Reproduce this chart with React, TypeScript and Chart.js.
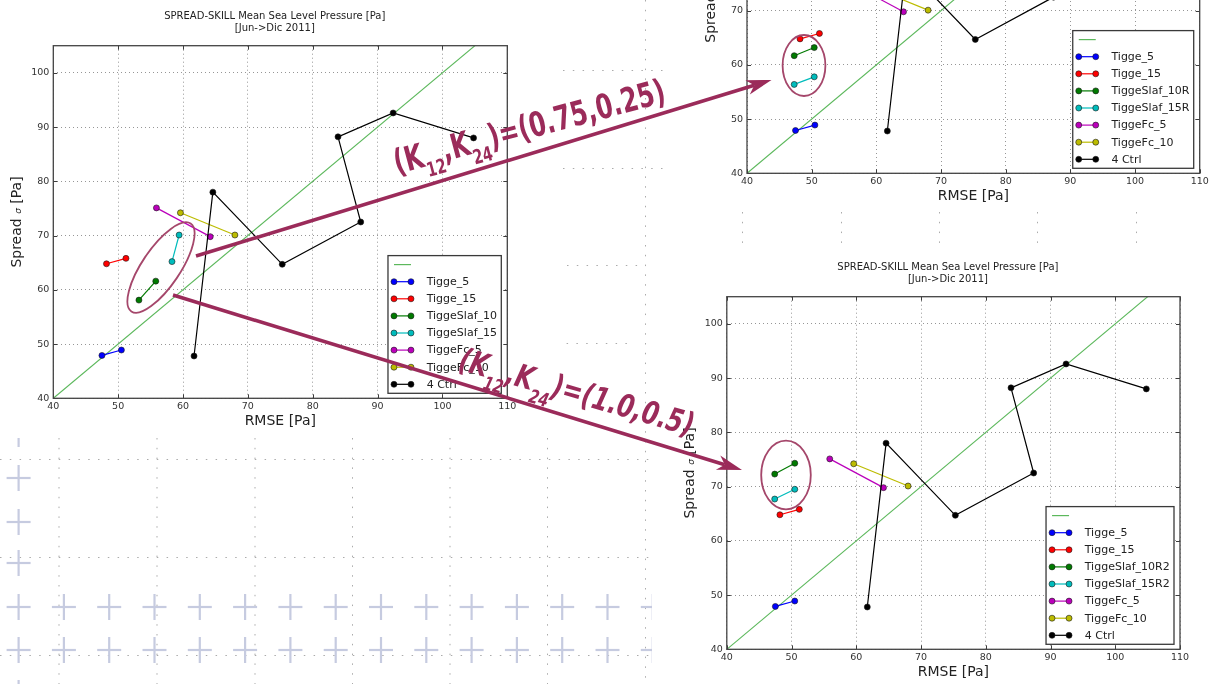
import React, { useEffect, useRef } from "react";
import { Chart, registerables } from "chart.js";

Chart.register(...registerables);

// ---- axis ranges (Pa) ----
const RMSE_MIN = 40;
const RMSE_MAX = 110;
const SPREAD_MIN = 40;
const SPREAD_MAX = 105;
const TICK_STEP = 10;

// ---- perfect spread/skill reference (spread = RMSE) ----
const diagonalRmse = [40, 110];
const diagonalSpread = [40, 110];

// ---- experiments: RMSE vs spread, one point per lead time ----
const tigge5Rmse = [47.5, 50.5];
const tigge5Spread = [47.9, 48.9];
const tigge15Rmse = [48.2, 51.2];
const tigge15Spread = [64.8, 65.8];

const slaf10Rmse = [53.2, 55.8];
const slaf10Spread = [58.1, 61.6];
const slaf15Rmse = [58.3, 59.4];
const slaf15Spread = [65.2, 70.1];

const slaf10RRmse = [47.3, 50.4];
const slaf10RSpread = [61.7, 63.2];
const slaf15RRmse = [47.3, 50.4];
const slaf15RSpread = [56.4, 57.8];

const slaf10R2Rmse = [47.4, 50.5];
const slaf10R2Spread = [72.3, 74.3];
const slaf15R2Rmse = [47.4, 50.5];
const slaf15R2Spread = [67.7, 69.5];

const fc5Rmse = [55.9, 64.2];
const fc5Spread = [75.1, 69.8];
const fc10Rmse = [59.6, 68.0];
const fc10Spread = [74.2, 70.1];

const ctrlRmse = [61.7, 64.6, 75.3, 87.4, 83.9, 92.4, 104.8];
const ctrlSpread = [47.8, 78.0, 64.7, 72.5, 88.2, 92.6, 88.0];

// ---- texts ----
const TITLE_LINES = ["SPREAD-SKILL Mean Sea Level Pressure [Pa]", "[Jun->Dic 2011]"];
const X_TITLE = "RMSE [Pa]";
const Y_TITLE_PARTS = ["Spread ", "\u03c3", " [Pa]"];

// ---- colours ----
const C_DIAG = "#5cb85c";
const C_BLUE = "#0000ff";
const C_RED = "#ff0000";
const C_GREEN = "#007a00";
const C_CYAN = "#00bcbc";
const C_MAGENTA = "#bb00bb";
const C_OLIVE = "#bcbc00";
const C_BLACK = "#000000";
const C_NOTE = "#9b2b5a";
const C_RING = "#a5476b";

const FONT = "'DejaVu Sans', 'Liberation Sans', sans-serif";

type Series = { label: string; color: string; rmse: number[]; spread: number[] };

function buildSeries(slaf: Series[]): Series[] {
  return [
    { label: "Tigge_5", color: C_BLUE, rmse: tigge5Rmse, spread: tigge5Spread },
    { label: "Tigge_15", color: C_RED, rmse: tigge15Rmse, spread: tigge15Spread },
    ...slaf,
    { label: "TiggeFc_5", color: C_MAGENTA, rmse: fc5Rmse, spread: fc5Spread },
    { label: "TiggeFc_10", color: C_OLIVE, rmse: fc10Rmse, spread: fc10Spread },
    { label: "4 Ctrl", color: C_BLACK, rmse: ctrlRmse, spread: ctrlSpread },
  ];
}

type Panel = {
  key: string;
  left: number;
  top: number;
  width: number;
  height: number;
  area: { l: number; t: number; r: number; b: number };
  series: Series[];
};

const panels: Panel[] = [
  {
    key: "base",
    left: 0,
    top: 0,
    width: 560,
    height: 438,
    area: { l: 53.3, t: 45.7, r: 507.3, b: 398.3 },
    series: buildSeries([
      { label: "TiggeSlaf_10", color: C_GREEN, rmse: slaf10Rmse, spread: slaf10Spread },
      { label: "TiggeSlaf_15", color: C_CYAN, rmse: slaf15Rmse, spread: slaf15Spread },
    ]),
  },
  {
    key: "k075",
    left: 680,
    top: -230,
    width: 536,
    height: 440,
    area: { l: 67, t: 51, r: 519.7, b: 403.3 },
    series: buildSeries([
      { label: "TiggeSlaf_10R", color: C_GREEN, rmse: slaf10RRmse, spread: slaf10RSpread },
      { label: "TiggeSlaf_15R", color: C_CYAN, rmse: slaf15RRmse, spread: slaf15RSpread },
    ]),
  },
  {
    key: "k10",
    left: 680,
    top: 255,
    width: 536,
    height: 429,
    area: { l: 46.8, t: 41.7, r: 500, b: 394.3 },
    series: buildSeries([
      { label: "TiggeSlaf_10R2", color: C_GREEN, rmse: slaf10R2Rmse, spread: slaf10R2Spread },
      { label: "TiggeSlaf_15R2", color: C_CYAN, rmse: slaf15R2Rmse, spread: slaf15R2Spread },
    ]),
  },
];

const toPoints = (xs: number[], ys: number[]) => xs.map((x, i) => ({ x, y: ys[i] }));

function SpreadSkillChart({ panel }: { panel: Panel }) {
  const ref = useRef<HTMLCanvasElement | null>(null);

  useEffect(() => {
    const canvas = ref.current;
    if (!canvas) return;
    const { area, width, height, series } = panel;

    const datasets: any[] = [
      {
        label: "",
        data: toPoints(diagonalRmse, diagonalSpread),
        showLine: true,
        borderColor: C_DIAG,
        borderWidth: 1.1,
        pointRadius: 0,
        order: 100,
      },
      ...series.map((s, i) => ({
        label: s.label,
        data: toPoints(s.rmse, s.spread),
        showLine: true,
        borderColor: s.color,
        borderWidth: 1.2,
        backgroundColor: s.color,
        pointBackgroundColor: s.color,
        pointBorderColor: "#1a1a1a",
        pointBorderWidth: 0.6,
        pointRadius: 3,
        order: 50 - i,
      })),
    ];

    const decor = {
      id: "decor",
      afterDraw(chart: any) {
        const { ctx, chartArea: a } = chart;
        const xs = chart.scales.x;
        const ys = chart.scales.y;
        ctx.save();

        // inward tick marks on all four spines
        ctx.strokeStyle = "#3c3c3c";
        ctx.lineWidth = 1;
        ctx.beginPath();
        for (const t of xs.ticks) {
          const px = Math.round(xs.getPixelForValue(t.value)) + 0.5;
          ctx.moveTo(px, a.bottom);
          ctx.lineTo(px, a.bottom - 4);
          ctx.moveTo(px, a.top);
          ctx.lineTo(px, a.top + 4);
        }
        for (const t of ys.ticks) {
          const py = Math.round(ys.getPixelForValue(t.value)) + 0.5;
          ctx.moveTo(a.left, py);
          ctx.lineTo(a.left + 4, py);
          ctx.moveTo(a.right, py);
          ctx.lineTo(a.right - 4, py);
        }
        ctx.stroke();

        // axes frame
        ctx.strokeStyle = "#444";
        ctx.lineWidth = 1.3;
        ctx.strokeRect(a.left, a.top, a.right - a.left, a.bottom - a.top);

        // legend box, lower right inside the axes
        ctx.font = `11px ${FONT}`;
        const entries = [{ label: "", color: C_DIAG, marker: false }].concat(
          series.map((s) => ({ label: s.label, color: s.color, marker: true }))
        );
        const maxW = Math.max(...entries.map((e) => ctx.measureText(e.label).width));
        const rowH = 17.1;
        const boxW = 39 + maxW + 4;
        const boxH = 18 + (entries.length - 1) * rowH;
        const bx = a.right - 6 - boxW;
        const by = a.bottom - 5 - boxH;
        ctx.fillStyle = "#fff";
        ctx.fillRect(bx, by, boxW, boxH);
        ctx.strokeStyle = "#3a3a3a";
        ctx.lineWidth = 1.3;
        ctx.strokeRect(bx, by, boxW, boxH);
        entries.forEach((e, i) => {
          const ry = by + 9 + i * rowH;
          ctx.strokeStyle = e.color;
          ctx.lineWidth = 1.2;
          ctx.beginPath();
          ctx.moveTo(bx + 6, ry);
          ctx.lineTo(bx + 23, ry);
          ctx.stroke();
          if (e.marker) {
            for (const mx of [bx + 6, bx + 23]) {
              ctx.beginPath();
              ctx.arc(mx, ry, 3, 0, Math.PI * 2);
              ctx.fillStyle = e.color;
              ctx.fill();
              ctx.lineWidth = 0.6;
              ctx.strokeStyle = "#1a1a1a";
              ctx.stroke();
            }
          }
          ctx.fillStyle = "#222";
          ctx.textAlign = "left";
          ctx.textBaseline = "middle";
          ctx.fillText(e.label, bx + 38.7, ry + 0.5);
        });

        // title
        const cx = (a.left + a.right) / 2;
        ctx.fillStyle = "#222";
        ctx.textAlign = "center";
        ctx.textBaseline = "middle";
        ctx.font = `10px ${FONT}`;
        ctx.fillText(TITLE_LINES[0], cx - 5.5, a.top - 29.7);
        ctx.fillText(TITLE_LINES[1], cx - 5.5, a.top - 17.4);

        // x axis title
        ctx.font = `14px ${FONT}`;
        ctx.fillText(X_TITLE, cx, a.bottom + 23);

        // y axis title with a small sigma
        const big = `14px ${FONT}`;
        const small = `italic 9px ${FONT}`;
        ctx.font = big;
        const w1 = ctx.measureText(Y_TITLE_PARTS[0]).width;
        const w3 = ctx.measureText(Y_TITLE_PARTS[2]).width;
        ctx.font = small;
        const w2 = ctx.measureText(Y_TITLE_PARTS[1]).width;
        const total = w1 + w2 + w3;
        ctx.translate(a.left - 36, (a.top + a.bottom) / 2);
        ctx.rotate(-Math.PI / 2);
        ctx.textAlign = "left";
        ctx.font = big;
        ctx.fillText(Y_TITLE_PARTS[0], -total / 2, 0);
        ctx.font = small;
        ctx.fillText(Y_TITLE_PARTS[1], -total / 2 + w1, 1);
        ctx.font = big;
        ctx.fillText(Y_TITLE_PARTS[2], -total / 2 + w1 + w2, 0);

        ctx.restore();
      },
    };

    const tickFont = { family: FONT, size: 9.5 };
    const gridCfg = { color: "#8a8a8a", lineWidth: 0.9, drawTicks: false };
    const borderCfg = { display: false, dash: [1, 3] };

    const chart = new Chart(canvas, {
      type: "scatter",
      data: { datasets },
      options: {
        responsive: false,
        animation: false,
        devicePixelRatio: 1,
        layout: { padding: { left: 0, top: area.t, right: width - area.r, bottom: 0 } },
        plugins: {
          legend: { display: false },
          tooltip: { enabled: false },
          title: { display: false },
        },
        scales: {
          x: {
            type: "linear",
            position: "bottom",
            min: RMSE_MIN,
            max: RMSE_MAX,
            ticks: { stepSize: TICK_STEP, font: tickFont, color: "#333", padding: 3, maxRotation: 0, autoSkip: false },
            grid: gridCfg,
            border: borderCfg,
            afterFit: (s: any) => {
              s.height = height - area.b;
            },
          },
          y: {
            type: "linear",
            position: "left",
            min: SPREAD_MIN,
            max: SPREAD_MAX,
            ticks: { stepSize: TICK_STEP, font: tickFont, color: "#333", padding: 4, autoSkip: false },
            grid: gridCfg,
            border: borderCfg,
            afterBuildTicks: (s: any) => {
              s.ticks = s.ticks.filter((t: any) => t.value % TICK_STEP === 0);
            },
            afterFit: (s: any) => {
              s.width = area.l;
            },
          },
        },
      } as any,
      plugins: [decor],
    });

    return () => chart.destroy();
  }, [panel]);

  return (
    <canvas
      ref={ref}
      width={panel.width}
      height={panel.height}
      style={{
        position: "absolute",
        left: panel.left,
        top: panel.top,
        width: panel.width,
        height: panel.height,
        background: "#fff",
        zIndex: 1,
      }}
    />
  );
}

// faint dotted grid and crosses of the slide background
function Backdrop() {
  const hSegs = [
    [70, 563, 665],
    [168, 563, 665],
    [265, 567, 646],
    [343, 547, 627],
    [459, 0, 653],
    [557, 0, 650],
    [655, 0, 650],
  ];
  const vSegs = [
    [58.5, 438, 684],
    [156.5, 438, 684],
    [254.5, 438, 684],
    [352, 438, 684],
    [449.5, 438, 684],
    [547, 438, 684],
    [645, 0, 684],
    [742, 212, 250],
    [841, 212, 250],
    [939, 212, 250],
    [1037, 212, 250],
    [1136, 212, 250],
  ];
  const crosses: number[][] = [
    [18.6, 434],
    [18.6, 478],
    [18.6, 522],
    [18.6, 563],
    [18.6, 693],
  ];
  for (const row of [607, 650]) {
    for (let k = 0; k < 15; k++) crosses.push([18.6 + 45.3 * k, row]);
  }
  return (
    <svg width={1216} height={684} style={{ position: "absolute", left: 0, top: 0, zIndex: 0 }}>
      <defs>
        <clipPath id="crossClip">
          <rect x={0} y={0} width={652} height={684} />
        </clipPath>
      </defs>
      <g stroke="#ababab" strokeWidth={1} strokeDasharray="1.5 8.3">
        {hSegs.map(([y, x1, x2], i) => (
          <line key={"h" + i} x1={x1} y1={y + 0.5} x2={x2} y2={y + 0.5} />
        ))}
        {vSegs.map(([x, y1, y2], i) => (
          <line key={"v" + i} x1={x + 0.5} y1={y1} x2={x + 0.5} y2={y2} />
        ))}
      </g>
      <g stroke="#c6cbe0" strokeWidth={2.2} clipPath="url(#crossClip)">
        {crosses.map(([x, y], i) => (
          <g key={"c" + i}>
            <line x1={x - 12} y1={y} x2={x + 12} y2={y} />
            <line x1={x} y1={y - 13} x2={x} y2={y + 13} />
          </g>
        ))}
      </g>
    </svg>
  );
}

function Arrow({ x1, y1, x2, y2 }: { x1: number; y1: number; x2: number; y2: number }) {
  const dx = x2 - x1;
  const dy = y2 - y1;
  const len = Math.hypot(dx, dy);
  const ux = dx / len;
  const uy = dy / len;
  const hl = 25;
  const hw = 7.5;
  const bx = x2 - ux * hl;
  const by = y2 - uy * hl;
  const nx = x2 - ux * hl * 0.72;
  const ny = y2 - uy * hl * 0.72;
  const head = `${x2},${y2} ${bx - uy * hw},${by + ux * hw} ${nx},${ny} ${bx + uy * hw},${by - ux * hw}`;
  return (
    <g>
      <line x1={x1} y1={y1} x2={nx} y2={ny} stroke={C_NOTE} strokeWidth={3.6} />
      <polygon points={head} fill={C_NOTE} />
    </g>
  );
}

function Annotations() {
  const noteFont = "'Liberation Sans Narrow', 'DejaVu Sans Condensed', 'Roboto Condensed', 'Liberation Sans', sans-serif";
  return (
    <svg width={1216} height={684} style={{ position: "absolute", left: 0, top: 0, zIndex: 2, pointerEvents: "none" }}>
      <g fill="none" stroke={C_RING} strokeWidth={1.8}>
        <ellipse cx={161} cy={267.5} rx={53} ry={19} transform="rotate(-56 161 267.5)" />
        <ellipse cx={804} cy={65.5} rx={21.4} ry={30.5} />
        <ellipse cx={786} cy={475} rx={24.8} ry={34.3} />
      </g>
      <Arrow x1={196} y1={256} x2={771.5} y2={80} />
      <Arrow x1={173} y1={295} x2={742} y2={470} />
      <text
        x={397}
        y={174}
        transform="rotate(-15 397 174)"
        fill={C_NOTE}
        fontFamily={noteFont}
        fontWeight="bold"
        fontSize={34}
        textLength={280}
        lengthAdjust="spacingAndGlyphs"
      >
        (K<tspan fontSize={20} dy={11}>12</tspan><tspan dy={-11}>,K</tspan><tspan fontSize={20} dy={11}>24</tspan><tspan dy={-11}>)=(0.75,0.25)</tspan>
      </text>
      <text
        x={457}
        y={369}
        transform="rotate(16 457 369)"
        fill={C_NOTE}
        fontFamily={noteFont}
        fontWeight="bold"
        fontStyle="italic"
        fontSize={32}
        textLength={243}
        lengthAdjust="spacingAndGlyphs"
      >
        (K<tspan fontSize={19} dy={12}>12</tspan><tspan dy={-12}>,K</tspan><tspan fontSize={19} dy={12}>24</tspan><tspan dy={-12}>)=(1.0,0.5)</tspan>
      </text>
    </svg>
  );
}

export default function App() {
  return (
    <div
      style={{
        position: "absolute",
        left: 0,
        top: 0,
        width: 1216,
        height: 684,
        overflow: "hidden",
        background: "#fff",
      }}
    >
      <Backdrop />
      {panels.map((p) => (
        <SpreadSkillChart key={p.key} panel={p} />
      ))}
      <Annotations />
    </div>
  );
}
